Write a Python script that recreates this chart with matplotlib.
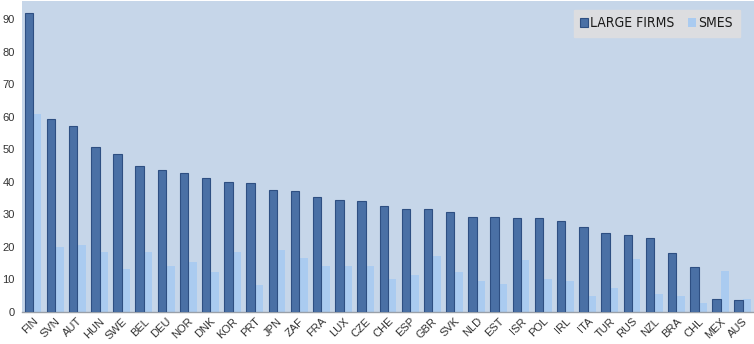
import matplotlib.pyplot as plt
import numpy as np

countries = ['FIN', 'SVN', 'AUT', 'HUN', 'SWE', 'BEL', 'DEU', 'NOR', 'DNK', 'KOR', 'PRT',
             'JPN', 'ZAF', 'FRA', 'LUX', 'CZE', 'CHE', 'ESP', 'GBR', 'SVK', 'NLD', 'EST',
             'ISR', 'POL', 'IRL', 'ITA', 'TUR', 'RUS', 'NZL', 'BRA', 'CHL', 'MEX', 'AUS']
large_firms = [91.8, 59.2, 57.0, 50.6, 48.4, 44.9, 43.6, 42.6, 41.1, 40.0, 39.6,
               37.6, 37.2, 35.3, 34.5, 34.1, 32.6, 31.5, 31.5, 30.8, 29.3, 29.3,
               29.0, 28.8, 27.8, 26.2, 24.3, 23.5, 22.7, 18.2, 13.9, 4.1, 3.7]
smes = [60.8, 20.0, 20.5, 18.5, 13.1, 18.3, 14.2, 15.3, 12.4, 18.3, 8.4,
        19.0, 16.5, 14.0, 14.0, 14.0, 10.2, 11.3, 17.2, 12.2, 9.6, 8.5,
        15.9, 10.1, 9.4, 5.0, 7.5, 16.4, 5.4, 4.8, 2.8, 12.5, 4.0]

plt.rcParams['font.family'] = ['Liberation Sans', 'DejaVu Sans']

fig = plt.figure(figsize=(7.54, 3.44), dpi=100)
fig.patch.set_facecolor('white')
ax = fig.add_axes([0.029, 0.093, 0.971, 0.904])
ax.set_facecolor('#c6d6e9')

x = np.arange(len(countries))
w = 0.38
ax.bar(x - w / 2, large_firms, w, color='#4a70a5', edgecolor='#2e4f82', linewidth=0.8,
       label='LARGE FIRMS', zorder=3)
ax.bar(x + w / 2, smes, w, color='#aacbf0', linewidth=0, label='SMES', zorder=2)

ax.set_xlim(-0.5, len(countries) - 0.5)
ax.set_ylim(0, 95.5)
ax.set_yticks(range(0, 91, 10))
ax.set_xticks(x)
ax.set_xticklabels(countries, rotation=45, ha='right', rotation_mode='anchor')
ax.tick_params(axis='both', length=0, labelsize=8, colors='#333333')
ax.tick_params(axis='x', pad=3)
ax.tick_params(axis='y', pad=5)

for side in ['top', 'right', 'left']:
    ax.spines[side].set_visible(False)
ax.spines['bottom'].set_color('#9aa0a8')
ax.spines['bottom'].set_linewidth(1.0)

leg = ax.legend(loc='upper right', bbox_to_anchor=(0.99, 0.995), ncol=2, frameon=True,
                fancybox=False, handlelength=0.55, handleheight=0.55, handletextpad=0.15,
                columnspacing=1.0, borderpad=0.5,
                prop={'family': 'DejaVu Sans', 'stretch': 'condensed', 'size': 10})
leg.get_frame().set_facecolor('#dcdde0')
leg.get_frame().set_edgecolor('#dcdde0')
leg.get_frame().set_alpha(1)
for t in leg.get_texts():
    t.set_color('#1a1a1a')

fig.savefig('out.png', dpi=100)
